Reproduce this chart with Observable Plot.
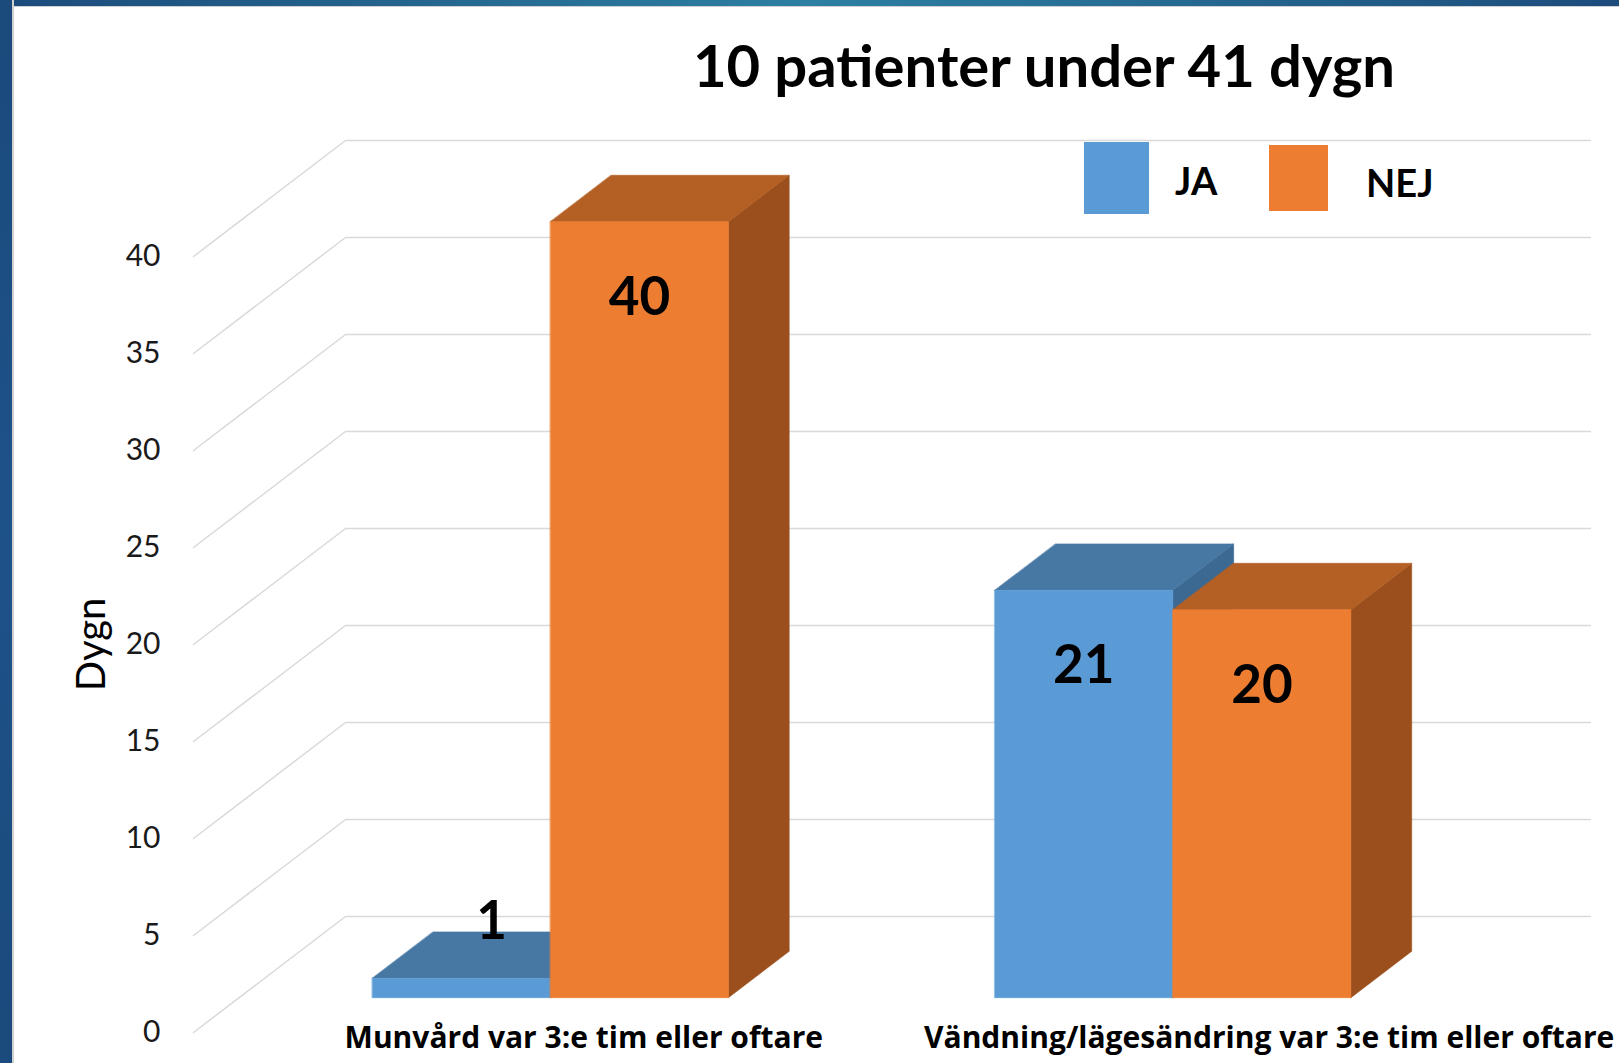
<!DOCTYPE html>
<html>
<head>
<meta charset="utf-8">
<script src="https://cdn.jsdelivr.net/npm/d3@7"></script>
<script src="https://cdn.jsdelivr.net/npm/@observablehq/plot@0.6"></script>
<style>
  html, body { margin: 0; padding: 0; background: #fff; }
  #page { position: relative; width: 1619px; height: 1063px; overflow: hidden; background: #fff; font-family: Lato, "Open Sans", sans-serif; color: #000; }
  #frameTop { position: absolute; left: 0; top: 0; width: 1619px; height: 6px; z-index: 3;
    background: linear-gradient(90deg, #1c4b7c 0%, #266a93 30%, #2d80a2 50%, #266a93 72%, #1c4b7c 100%);
    border-bottom: 1px solid #cfcfcf; }
  #frameLeft { position: absolute; left: 0; top: 0; width: 12px; height: 1063px; z-index: 3;
    background: linear-gradient(180deg, #1b4a7c 0%, #1d5289 50%, #1b4a7c 100%);
    border-right: 2px solid #d0d0d0; }
  #chart { position: absolute; left: 0; top: 0; z-index: 1; }
  #title { position: absolute; left: 1044px; top: 36px; transform: translateX(-50%); white-space: nowrap;
    font-size: 58px; line-height: 58px; font-weight: 700; z-index: 2; }
  .sw { position: absolute; z-index: 2; }
  .lg { position: absolute; font-size: 38px; line-height: 38px; font-weight: 700; z-index: 2; white-space: nowrap; }
</style>
</head>
<body>
<div id="page">
  <div id="frameTop"></div>
  <div id="frameLeft"></div>
  <div id="title"></div>
  <div id="legend"></div>
  <div id="chart"></div>
</div>
<script>
// ---------- data ----------
const title = "10 patienter under 41 dygn";
const yLabel = "Dygn";
const categories = ["Munvård var 3:e tim eller oftare", "Vändning/lägesändring var 3:e tim eller oftare"];
const seriesNames = ["JA", "NEJ"];
const jaValues = [1, 21];
const nejValues = [40, 20];
const yTicks = [0, 5, 10, 15, 20, 25, 30, 35, 40];

// ---------- styles / layout ----------
const frontColors = ["#5b9bd5", "#ed7d31"];
const topColors   = ["#4777a3", "#b45f23"];
const sideColors  = ["#3c6992", "#9a4f1d"];
const gridColor = "#d9d9d9";
const W = 1619, H = 1063;
const barW = 0.286;          // bar width in category units
const depthX = 0.2442;       // oblique depth shift (category units per full depth)
const depthY = 5.98;         // oblique depth shift (value units per full depth)
const zFront = 0.3, zBack = 0.7;
const catLabelShift = [0.127, 0.228];

document.getElementById("title").textContent = title;

// legend (HTML)
const legend = document.getElementById("legend");
const swatchBoxes = [{l: 1084, t: 142, w: 65, h: 72}, {l: 1269, t: 145, w: 59, h: 66}];
const legendText = [{l: 1175, t: 161}, {l: 1366, t: 163}];
seriesNames.forEach((name, i) => {
  const s = document.createElement("div");
  s.className = "sw";
  Object.assign(s.style, {left: swatchBoxes[i].l + "px", top: swatchBoxes[i].t + "px",
    width: swatchBoxes[i].w + "px", height: swatchBoxes[i].h + "px", background: frontColors[i]});
  legend.appendChild(s);
  const t = document.createElement("div");
  t.className = "lg";
  t.textContent = name;
  Object.assign(t.style, {left: legendText[i].l + "px", top: legendText[i].t + "px"});
  legend.appendChild(t);
});

// ---------- geometry from data ----------
const P = (x, v, z) => ({x: x + z * depthX, y: v + z * depthY});
const seriesValues = [jaValues, nejValues];

const faces = [];
const valueLabels = [];
categories.forEach((cat, i) => {
  seriesValues.forEach((vals, s) => {
    const v = vals[i];
    const x0 = i + 0.5 - barW + s * barW, x1 = x0 + barW;
    const id = `${i}-${s}`;
    const add = (name, pts, fill) => pts.forEach(p => faces.push({...p, id: id + name, fill}));
    add("side", [P(x1, 0, zFront), P(x1, 0, zBack), P(x1, v, zBack), P(x1, v, zFront)], sideColors[s]);
    add("top", [P(x0, v, zFront), P(x1, v, zFront), P(x1, v, zBack), P(x0, v, zBack)], topColors[s]);
    add("front", [P(x0, 0, zFront), P(x1, 0, zFront), P(x1, v, zFront), P(x0, v, zFront)], frontColors[s]);
    if (v >= 5) {
      const p = P(x0 + barW / 2, v, zFront);
      valueLabels.push({...p, text: String(v), inside: true});
    } else {
      const p = P(x0 + barW / 2, v, (zFront + zBack) / 2);
      valueLabels.push({...p, text: String(v), inside: false});
    }
  });
});

const grid = [];
yTicks.forEach(t => {
  [P(0, t, 0), P(0, t, 1), P(2, t, 1)].forEach(p => grid.push({...p, t}));
});

const plot = Plot.plot({
  width: W,
  height: H,
  marginLeft: 193,
  marginRight: 181,
  marginTop: 256,
  marginBottom: 31,
  style: {background: "transparent", fontFamily: "Lato, 'Open Sans', sans-serif", color: "#1a1a1a"},
  x: {type: "linear", domain: [0, categories.length], axis: null},
  y: {type: "linear", domain: [0, 40]},
  color: {type: "identity"},
  marks: [
    Plot.line(grid, {x: "x", y: "y", z: "t", stroke: gridColor, strokeWidth: 1.5}),
    Plot.axisY({ticks: yTicks, tickSize: 0, tickPadding: 33, fontSize: 30, label: null, tickFormat: d => String(d)}),
    Plot.text([yLabel], {frameAnchor: "left", textAnchor: "middle", dx: -101, rotate: -90, fontSize: 40, fill: "#000"}),
    Plot.line(faces, {x: "x", y: "y", z: "id", fill: "fill", stroke: "fill", strokeWidth: 0.6, curve: "linear-closed"}),
    Plot.text(valueLabels.filter(d => d.inside), {x: "x", y: "y", text: "text", dy: 76, fontSize: 53, fontWeight: 700, fill: "#000"}),
    Plot.text(valueLabels.filter(d => !d.inside), {x: "x", y: "y", text: "text", dy: -33, fontSize: 53, fontWeight: 700, fill: "#000"}),
    Plot.text(categories, {x: (d, i) => i + 0.5 + catLabelShift[i], y: 0, text: d => d, dy: 6, fontSize: 30, fontWeight: 700, fontFamily: "'Open Sans', Lato, sans-serif", fill: "#000"})
  ]
});
document.getElementById("chart").appendChild(plot);
</script>
</body>
</html>
